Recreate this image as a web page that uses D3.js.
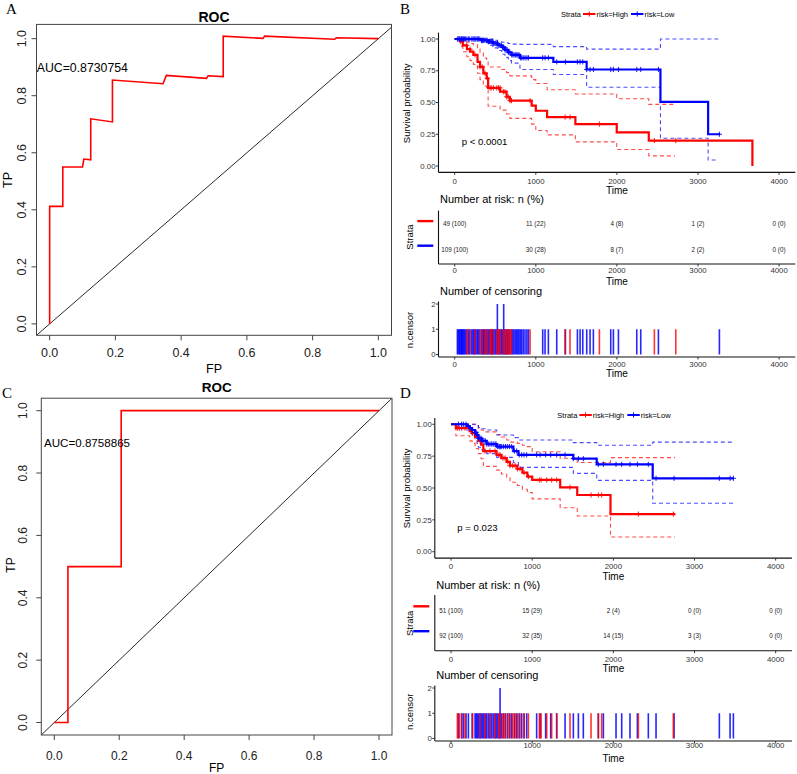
<!DOCTYPE html>
<html><head><meta charset="utf-8">
<script src="https://cdn.jsdelivr.net/npm/d3@7"></script>
<style>body{margin:0;background:#fff} svg{display:block}</style>
</head><body>
<script>
// ================= DATA =================
const rocTicks = [0, 0.2, 0.4, 0.6, 0.8, 1.0];
const rocA_fp = [0,0,0.04,0.04,0.10,0.104,0.125,0.125,0.191,0.191,0.345,0.355,0.477,0.482,0.528,0.528,0.649,0.654,0.867,0.872,1.0];
const rocA_tp = [0,0.412,0.412,0.55,0.55,0.578,0.575,0.719,0.708,0.855,0.842,0.871,0.861,0.870,0.867,1.009,1.001,1.009,0.998,1.003,1.0];
const rocA_auc = "AUC=0.8730754";
const rocC_fp = [0,0.042,0.042,0.206,0.206,1.0];
const rocC_tp = [0,0,0.5,0.5,1.0,1.0];
const rocC_auc = "AUC=0.8758865";

const timeTicks = [0,1000,2000,3000,4000];
const survTicks = [0,0.25,0.5,0.75,1.0];
const censTicks = [0,1,2];
const strataNames = ["risk=High","risk=Low"];

// Panel B (training set)
const kmB_high_t  = [0,70,100,150,190,230,281,312,353,394,412,560,640,680,949,1000,1139,1488,1998,2393,3671];
const kmB_high_s  = [1,0.98,0.95,0.92,0.90,0.875,0.82,0.78,0.73,0.69,0.615,0.585,0.545,0.515,0.475,0.435,0.385,0.33,0.265,0.20,0];
const kmB_high_up = [1,1,0.99,0.975,0.965,0.955,0.92,0.89,0.85,0.82,0.78,0.76,0.735,0.71,0.68,0.65,0.60,0.567,0.53,0.485,0.485];
const kmB_high_lo = [1,0.94,0.90,0.86,0.83,0.80,0.73,0.68,0.63,0.60,0.47,0.44,0.41,0.375,0.33,0.28,0.245,0.19,0.13,0.08,0.08];
const kmB_high_ciEnd = 2717;
const kmB_high_cens = [148,189,250,312,340,374,403,436,450,477,518,540,559,600,620,641,660,682,700,929,1361,1422,1784,2462,2726];

const kmB_low_t  = [0,330,415,470,530,580,620,660,700,805,1216,1627,2537,3125,3272];
const kmB_low_s  = [1,0.99,0.98,0.965,0.95,0.935,0.915,0.895,0.875,0.852,0.82,0.76,0.505,0.25,0.25];
const kmB_low_up = [1,1,1,0.99,0.98,0.975,0.97,0.965,0.96,0.958,0.94,0.92,1.0,1.0,1.0];
const kmB_low_lo = [1,0.97,0.95,0.93,0.91,0.88,0.855,0.83,0.81,0.76,0.72,0.62,0.218,0.047,0.047];
const kmB_low_ciEnd = 3250;
const kmB_low_cens = [33,45,58,66,80,86,98,107,120,132,150,169,185,210,225,238,250,263,280,292,310,333,345,354,370,386,400,415,430,444,455,469,480,497,510,526,526,545,559,575,590,604,604,620,633,648,662,680,703,718,732,750,765,780,793,810,826,845,867,890,909,1085,1114,1155,1258,1365,1513,1546,1579,1628,1669,1710,1924,1957,2019,2245,2294,2512,3264];

const riskB_high = ["49 (100)","11 (22)","4 (8)","1 (2)","0 (0)"];
const riskB_low  = ["109 (100)","30 (28)","8 (7)","2 (2)","0 (0)"];
const pB = "p < 0.0001";

// Panel D (validation set)
const kmD_high_t  = [0,60,230,260,296,337,370,398,560,620,686,727,817,880,940,1000,1345,1555,1965,2760];
const kmD_high_s  = [1,0.97,0.947,0.93,0.90,0.87,0.84,0.79,0.76,0.735,0.705,0.675,0.65,0.62,0.59,0.563,0.505,0.445,0.295,0.295];
const kmD_high_up = [1,1,1,1,0.99,0.97,0.955,0.94,0.92,0.90,0.877,0.86,0.85,0.835,0.825,0.785,0.733,0.70,0.738,0.738];
const kmD_high_lo = [1,0.91,0.87,0.85,0.81,0.77,0.73,0.67,0.64,0.61,0.58,0.545,0.52,0.49,0.465,0.415,0.345,0.28,0.115,0.115];
const kmD_high_ciEnd = 2760;
const kmD_high_cens = [78,103,131,172,267,357,419,480,542,590,604,640,665,700,727,760,789,820,850,899,953,1088,1110,1179,1240,1302,1466,1725,1815,1856,2308,2739];

const kmD_low_t  = [0,193,230,260,296,320,337,378,440,563,768,830,1507,1795,2485,3480];
const kmD_low_s  = [1,0.985,0.97,0.955,0.935,0.915,0.89,0.87,0.845,0.825,0.79,0.76,0.73,0.686,0.576,0.576];
const kmD_low_up = [1,1,1,1,1,0.99,0.975,0.965,0.955,0.916,0.895,0.877,0.856,0.835,0.86,0.86];
const kmD_low_lo = [1,0.955,0.93,0.91,0.88,0.85,0.82,0.80,0.77,0.74,0.70,0.662,0.615,0.56,0.38,0.38];
const kmD_low_ciEnd = 3480;
const kmD_low_cens = [90,130,152,185,214,260,296,310,324,340,357,372,390,405,423,440,460,480,501,520,542,555,571,590,604,604,620,645,670,694,720,747,780,809,840,871,900,932,1055,1097,1166,1228,1302,1405,1507,1569,1630,1815,1877,2033,2103,2205,2296,2431,2526,2748,3306,3438,3479];

const riskD_high = ["51 (100)","15 (29)","2 (4)","0 (0)","0 (0)"];
const riskD_low  = ["92 (100)","32 (35)","14 (15)","3 (3)","0 (0)"];
const pD = "p = 0.023";

// ================= DRAWING =================
const FONT = '"Liberation Sans", Arial, Helvetica, sans-serif';
const SERIF = '"Liberation Serif", "Times New Roman", serif';
const RED = '#ff0000', BLUE = '#0000ff';
const svg = d3.select('body').append('svg').attr('width',797).attr('height',774)
  .style('font-family',FONT);

function txt(g, x, y, s, size, opts={}) {
  const t = g.append('text').attr('x',x).attr('y',y).text(s).attr('font-size',size)
    .attr('fill', opts.fill || '#000').attr('text-anchor', opts.anchor || 'start');
  if (opts.bold) t.attr('font-weight','bold');
  if (opts.rot) t.attr('transform',`rotate(-90,${x},${y})`);
  if (opts.family) t.attr('font-family', opts.family);
  return t;
}

// ---------- ROC panels ----------
function rocPanel(o) {
  const g = svg.append('g');
  const x = d3.scaleLinear().domain([-0.04,1.04]).range([o.L,o.R]);
  const y = d3.scaleLinear().domain(o.ydom).range([o.B,o.T]);
  const cid = 'clip'+o.id;
  g.append('clipPath').attr('id',cid).append('rect')
    .attr('x',o.L).attr('y',o.T).attr('width',o.R-o.L).attr('height',o.B-o.T);
  const lo = -0.04, hi = 1.04;
  g.append('line').attr('clip-path',`url(#${cid})`)
    .attr('x1',x(lo)).attr('y1',y(lo)).attr('x2',x(hi)).attr('y2',y(hi))
    .attr('stroke','#111').attr('stroke-width',0.9);
  const pts = o.fp.map((f,i)=>[f,o.tp[i]]);
  g.append('path').datum(pts).attr('d',d3.line().x(d=>x(d[0])).y(d=>y(d[1])))
    .attr('fill','none').attr('stroke',RED).attr('stroke-width',1.6);
  g.append('rect').attr('x',o.L).attr('y',o.T).attr('width',o.R-o.L).attr('height',o.B-o.T)
    .attr('fill','none').attr('stroke','#444').attr('stroke-width',1);
  const fmt = d3.format('.1f');
  rocTicks.forEach(v=>{
    g.append('line').attr('x1',x(v)).attr('x2',x(v)).attr('y1',o.B).attr('y2',o.B+5).attr('stroke','#444');
    txt(g, x(v), o.xlabBase, fmt(v), o.fs, {anchor:'middle', fill:'#222'});
    g.append('line').attr('x1',o.L).attr('x2',o.L-5).attr('y1',y(v)).attr('y2',y(v)).attr('stroke','#444');
    txt(g, o.ylabBase, y(v), fmt(v), o.fs, {anchor:'middle', rot:true, fill:'#222'});
  });
  txt(g, (o.L+o.R)/2, o.titleBase, 'ROC', o.tfs, {anchor:'middle', bold:true});
  txt(g, (o.L+o.R)/2, o.fpBase, 'FP', o.fs, {anchor:'middle'});
  txt(g, o.tpBase, o.tpY, 'TP', o.fs, {anchor:'middle', rot:true});
  txt(g, o.aucX, o.aucY, o.auc, o.afs, {});
  txt(g, o.letX, o.letY, o.letter, 15, {family:SERIF});
}

rocPanel({id:'A', L:36.5, R:391.5, T:24.4, B:335.3, ydom:[-0.04,1.05],
  fp:rocA_fp, tp:rocA_tp, auc:rocA_auc, fs:12.5, tfs:14, afs:12.3,
  xlabBase:357, ylabBase:25.7, titleBase:22, fpBase:372.5, tpBase:11.7, tpY:180,
  aucX:36.7, aucY:72, letter:'A', letX:6, letY:14});
rocPanel({id:'C', L:41.3, R:392, T:398.2, B:735, ydom:[-0.04,1.04],
  fp:rocC_fp, tp:rocC_tp, auc:rocC_auc, fs:12, tfs:13.5, afs:11.6,
  xlabBase:760, ylabBase:26.7, titleBase:392, fpBase:771.7, tpBase:15, tpY:565,
  aucX:44, aucY:446.5, letter:'C', letX:2, letY:397.5});

// ---------- KM panels ----------
function stepAt(ts, ss, t) { let v = ss[0]; for (let i=0;i<ts.length;i++) if (ts[i]<=t) v = ss[i]; return v; }
function plus(g, cx, cy, r, color, w) {
  g.append('path').attr('d',`M${cx-r},${cy}H${cx+r}M${cx},${cy-r}V${cy+r}`)
    .attr('stroke',color).attr('stroke-width',w).attr('fill','none');
}

function axesLB(g, x, y, L, R, T, B, xt, yt, yfmt, tickBase, ylabRight) {
  g.append('line').attr('x1',L).attr('x2',L).attr('y1',T).attr('y2',B).attr('stroke','#111').attr('stroke-width',1.1);
  g.append('line').attr('x1',L).attr('x2',R).attr('y1',B).attr('y2',B).attr('stroke','#111').attr('stroke-width',1.1);
  xt.forEach(v=>{
    g.append('line').attr('x1',x(v)).attr('x2',x(v)).attr('y1',B).attr('y2',B+2.5).attr('stroke','#333');
    txt(g, x(v), tickBase, String(v), 7.8, {anchor:'middle', fill:'#333'});
  });
  if (yt) yt.forEach(v=>{
    g.append('line').attr('x1',L).attr('x2',L-2.5).attr('y1',y(v)).attr('y2',y(v)).attr('stroke','#333');
    txt(g, ylabRight, y(v)+2.7, yfmt(v), 7.8, {anchor:'end', fill:'#333'});
  });
}

function kmPanel(o) {
  const g = svg.append('g');
  const x = d3.scaleLinear().domain([-200,4200]).range([o.L,o.R]);
  const y = d3.scaleLinear().domain([-0.05,1.05]).range([o.B,o.T]);
  const line = d3.line().x(d=>x(d[0])).y(d=>y(d[1])).curve(d3.curveStepAfter);
  const groups = o.groups;
  groups.forEach(gr=>{
    ['up','lo'].forEach(k=>{
      const pts = [];
      gr.t.forEach((t,i)=>{ if (t < gr.ciEnd) pts.push([t, gr[k][i]]); });
      pts.push([gr.ciEnd, pts[pts.length-1][1]]);
      g.append('path').datum(pts).attr('d',line).attr('fill','none')
        .attr('stroke',gr.color).attr('stroke-width',1.1).attr('stroke-dasharray','4,3').attr('opacity',0.7);
    });
  });
  groups.forEach(gr=>{
    const pts = gr.t.map((t,i)=>[t,gr.s[i]]);
    g.append('path').datum(pts).attr('d',line).attr('fill','none')
      .attr('stroke',gr.color).attr('stroke-width',2.2);
    gr.cens.forEach(c=>plus(g, x(c), y(stepAt(gr.t,gr.s,c)), 2.6, gr.color, 0.9));
  });
  axesLB(g, x, y, o.L, o.R, o.T, o.B, timeTicks, survTicks, d3.format('.2f'), o.tickBase, o.L-3);
  txt(g, (o.L+o.R)/2, o.timeBase, 'Time', 10, {anchor:'middle'});
  txt(g, 410.5, o.ylabY, 'Survival probability', 9.5, {anchor:'middle', rot:true});
  txt(g, o.pX, o.pY, o.p, 9.6, {});
  // legend
  const lx = o.legX, ly = o.legY;
  txt(g, lx, ly+2.6, 'Strata', 7.5, {});
  const keys = [[22,35.5],[70,83.5]];
  groups.forEach((gr,i)=>{
    const k0 = lx+keys[i][0];
    g.append('line').attr('x1',k0).attr('x2',k0+12.5).attr('y1',ly).attr('y2',ly).attr('stroke',gr.color).attr('stroke-width',2);
    plus(g, k0+6.25, ly, 2.6, gr.color, 1);
    txt(g, lx+keys[i][1], ly+2.6, strataNames[i], 7.5, {});
  });
  txt(g, o.letX, o.letY, o.letter, 15, {family:SERIF});
  return x;
}

function riskTable(o) {
  const g = svg.append('g');
  const x = d3.scaleLinear().domain([-200,4200]).range([o.L,o.R]);
  txt(g, o.L+1.5, o.titleBase, 'Number at risk: n (%)', 11, {});
  axesLB(g, x, null, o.L, o.R, o.T, o.B, timeTicks, null, null, o.tickBase, 0);
  o.rows.forEach((r,i)=>{
    timeTicks.forEach((t,j)=> txt(g, x(t), r.y+2.2, r.vals[j], 6.3, {anchor:'middle', fill:'#222'}));
    g.append('line').attr('x1',o.barX0).attr('x2',o.barX0+16).attr('y1',r.y-r.off).attr('y2',r.y-r.off)
      .attr('stroke',r.color).attr('stroke-width',2.4);
  });
  txt(g, 413, o.strataY, 'Strata', 9.5, {anchor:'middle', rot:true});
  txt(g, (o.L+o.R)/2, o.timeBase, 'Time', 10, {anchor:'middle'});
}

function censorPlot(o) {
  const g = svg.append('g');
  const x = d3.scaleLinear().domain([-200,4200]).range([o.L,o.R]);
  const y = d3.scaleLinear().domain([-0.1,2.1]).range([o.B,o.T]);
  txt(g, o.L+1.5, o.titleBase, 'Number of censoring', 11, {});
  // draw low-risk (blue) first, then high-risk (red) on top, as in the reference
  [o.groups[1], o.groups[0]].forEach(gr=>{
    const counts = d3.rollups(gr.cens, v=>v.length, d=>d);
    g.selectAll(null).data(counts).enter().append('rect')
      .attr('x',d=>x(d[0])-0.8).attr('width',1.6)
      .attr('y',d=>y(d[1])).attr('height',d=>y(0)-y(d[1]))
      .attr('fill',gr.color).attr('opacity',gr.color===RED?0.8:0.85);
  });
  axesLB(g, x, y, o.L, o.R, o.T, o.B, timeTicks, censTicks, d3.format('d'), o.tickBase, o.L-3);
  txt(g, 413, o.labY, 'n.censor', 9.5, {anchor:'middle', rot:true});
  txt(g, (o.L+o.R)/2, o.timeBase, 'Time', 10, {anchor:'middle'});
}

const grpB = [
  {color:RED, t:kmB_high_t, s:kmB_high_s, up:kmB_high_up, lo:kmB_high_lo, ciEnd:kmB_high_ciEnd, cens:kmB_high_cens},
  {color:BLUE, t:kmB_low_t, s:kmB_low_s, up:kmB_low_up, lo:kmB_low_lo, ciEnd:kmB_low_ciEnd, cens:kmB_low_cens}
];
const grpD = [
  {color:RED, t:kmD_high_t, s:kmD_high_s, up:kmD_high_up, lo:kmD_high_lo, ciEnd:kmD_high_ciEnd, cens:kmD_high_cens},
  {color:BLUE, t:kmD_low_t, s:kmD_low_s, up:kmD_low_up, lo:kmD_low_lo, ciEnd:kmD_low_ciEnd, cens:kmD_low_cens}
];

kmPanel({L:438.5, R:795.3, T:32.65, B:172.35, groups:grpB, tickBase:184, timeBase:194,
  ylabY:103.3, p:pB, pX:461.7, pY:145, legX:561, legY:14, letter:'B', letX:400, letY:14});
riskTable({L:438.5, R:795.3, T:210.7, B:264, titleBase:203, tickBase:273.3, timeBase:285,
  strataY:237, barX0:417.3,
  rows:[{y:223.3, vals:riskB_high, color:RED, off:2.2},{y:250, vals:riskB_low, color:BLUE, off:4.3}]});
censorPlot({L:438.5, R:795.3, T:301.5, B:357, groups:grpB, titleBase:295, tickBase:366.7,
  timeBase:377.3, labY:330});

kmPanel({L:434.8, R:791.9, T:417.9, B:558.1, groups:grpD, tickBase:569, timeBase:580,
  ylabY:488.3, p:pD, pX:457.3, pY:530.7, legX:557.3, legY:415, letter:'D', letX:400, letY:398.3});
riskTable({L:434.8, R:791.9, T:595, B:650.7, titleBase:588.5, tickBase:661.7, timeBase:671.7,
  strataY:623.3, barX0:413.3,
  rows:[{y:611, vals:riskD_high, color:RED, off:4.7},{y:635.7, vals:riskD_low, color:BLUE, off:4.5}]});
censorPlot({L:434.8, R:791.9, T:685.5, B:741, groups:grpD, titleBase:678.5, tickBase:747.5,
  timeBase:761.7, labY:711.7});
</script>
</body></html>
